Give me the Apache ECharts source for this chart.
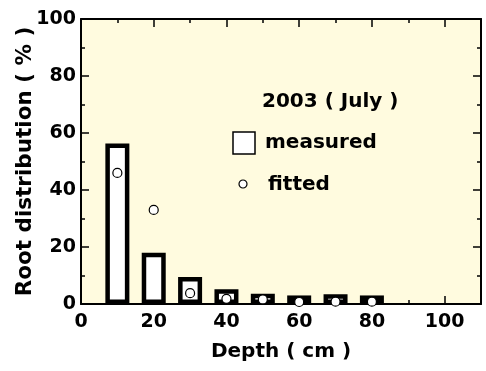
<!DOCTYPE html>
<html>
<head>
<meta charset="utf-8">
<script src="https://cdn.jsdelivr.net/npm/echarts@6/dist/echarts.min.js"></script>
<style>
  html, body { margin: 0; padding: 0; background: #fff; }
  #chart { width: 486px; height: 371px; }
</style>
</head>
<body>
<div id="chart"></div>
<script>
const depths = [10, 20, 30, 40, 50, 60, 70, 80];
const measured = [56.3, 18, 9.5, 5.2, 3.6, 3.0, 3.4, 3.0];
const fitted = [46, 33, 3.8, 1.8, 1.6, 0.7, 0.8, 0.8];
const legendTitle = '2003 ( July )';

const chart = echarts.init(document.getElementById('chart'));
const font = 'DejaVu Sans, sans-serif';

function pairs(vals) {
  return depths.map((d, i) => [d, vals[i]]);
}

function makeAxis(extra) {
  return Object.assign({
    type: 'value',
    axisLine: { show: true, onZero: false, lineStyle: { color: '#000', width: 2 } },
    axisTick: { show: true, inside: true, length: 8, lineStyle: { color: '#000', width: 1.5 } },
    minorTick: { show: true, splitNumber: 2, length: 4, lineStyle: { color: '#000', width: 1.5 } },
    splitLine: { show: false },
    minorSplitLine: { show: false }
  }, extra);
}

const labelStyle = { fontFamily: font, fontWeight: 'bold', fontSize: 19, color: '#000' };

const option = {
  animation: false,
  backgroundColor: '#fff',
  grid: {
    left: 81, right: 5, top: 19, bottom: 67,
    outerBoundsMode: 'none',
    containLabel: false,
    show: true, backgroundColor: '#fffbdf', borderWidth: 0
  },
  xAxis: [
    makeAxis({
      min: 0, max: 110, interval: 20,
      position: 'bottom',
      name: 'Depth ( cm )',
      nameLocation: 'middle',
      nameGap: 38,
      nameMoveOverlap: false,
      nameTextStyle: { fontFamily: font, fontWeight: 'bold', fontSize: 20, color: '#000' },
      axisLabel: Object.assign({}, labelStyle, {
        margin: 9,
        showMaxLabel: false,
        formatter: v => (v > 100 ? '' : v)
      })
    }),
    makeAxis({
      min: 0, max: 110, interval: 20,
      position: 'top',
      axisLabel: { show: false }
    })
  ],
  yAxis: [
    makeAxis({
      min: 0, max: 100, interval: 20,
      position: 'left',
      name: 'Root distribution ( % )',
      nameLocation: 'middle',
      nameGap: 45,
      nameMoveOverlap: false,
      nameTextStyle: { fontFamily: font, fontWeight: 'bold', fontSize: 21.5, color: '#000' },
      axisLabel: Object.assign({}, labelStyle, { margin: 5 })
    }),
    makeAxis({
      min: 0, max: 100, interval: 20,
      position: 'right',
      axisLabel: { show: false }
    })
  ],
  series: [
    {
      name: 'measured',
      type: 'bar',
      data: pairs(measured),
      barWidth: 24,
      itemStyle: { color: '#fff', borderColor: '#000', borderWidth: 4.5 },
      z: 2
    },
    {
      name: 'fitted',
      type: 'scatter',
      data: pairs(fitted),
      symbol: 'circle',
      symbolSize: 9,
      itemStyle: { color: '#fff', borderColor: '#000', borderWidth: 1.2, opacity: 1 },
      z: 3
    }
  ],
  graphic: [
    {
      type: 'text', x: 262, y: 102,
      style: { text: legendTitle, font: 'bold 20px ' + font, fill: '#000', verticalAlign: 'middle' }
    },
    {
      type: 'rect', x: 233, y: 132,
      shape: { width: 22, height: 22 },
      style: { fill: '#fff', stroke: '#000', lineWidth: 1.5 }
    },
    {
      type: 'text', x: 265, y: 143,
      style: { text: 'measured', font: 'bold 20px ' + font, fill: '#000', verticalAlign: 'middle' }
    },
    {
      type: 'circle', x: 243, y: 184,
      shape: { cx: 0, cy: 0, r: 4 },
      style: { fill: '#fff', stroke: '#000', lineWidth: 1.2 }
    },
    {
      type: 'text', x: 268, y: 185,
      style: { text: 'fitted', font: 'bold 20px ' + font, fill: '#000', verticalAlign: 'middle' }
    }
  ]
};

chart.setOption(option);
</script>
</body>
</html>
